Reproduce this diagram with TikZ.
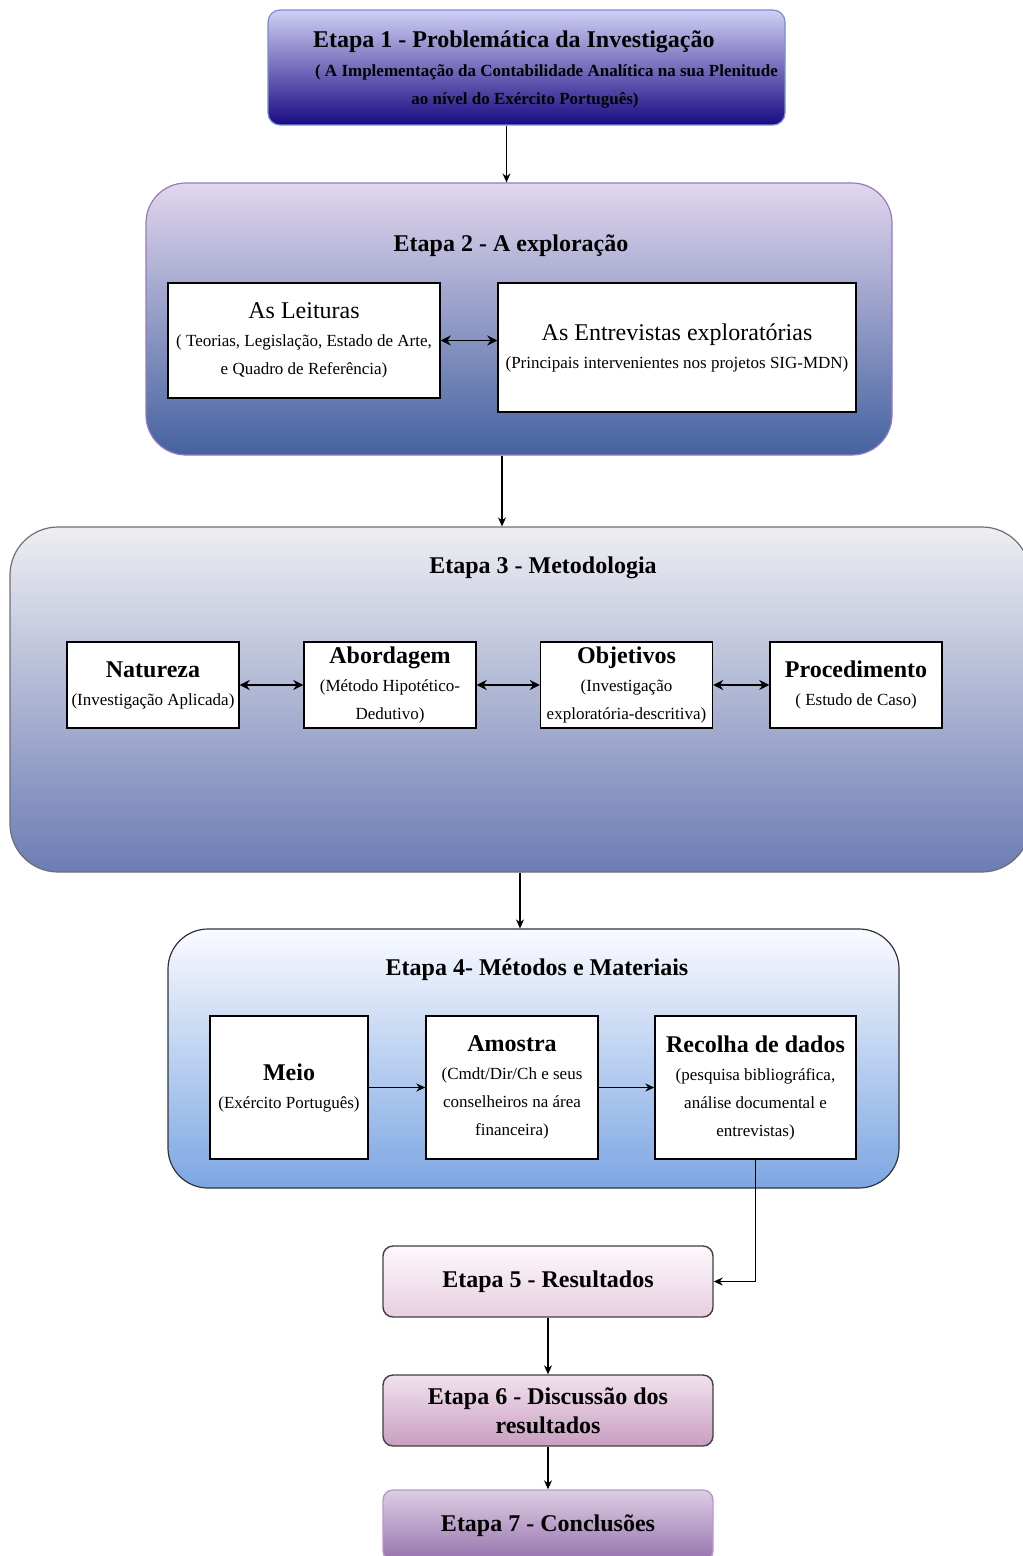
\documentclass[tikz,border=0pt]{standalone}
\usepackage{fontspec}
\setmainfont{Liberation Serif}
\usetikzlibrary{arrows.meta,positioning,calc}
\definecolor{umtopo}{RGB}{208,208,244}
\definecolor{umbase}{RGB}{26,10,130}
\definecolor{umlinha}{RGB}{120,140,212}
\definecolor{doistopo}{RGB}{226,214,238}
\definecolor{doisbase}{RGB}{68,98,160}
\definecolor{doislinha}{RGB}{150,122,192}
\definecolor{trestopo}{RGB}{238,238,242}
\definecolor{tresbase}{RGB}{108,124,180}
\definecolor{treslinha}{RGB}{110,110,120}
\definecolor{quatrotopo}{RGB}{250,251,255}
\definecolor{quatrobase}{RGB}{124,166,226}
\definecolor{quatrolinha}{RGB}{50,50,60}
\definecolor{cincotopo}{RGB}{253,249,253}
\definecolor{cincobase}{RGB}{232,206,224}
\definecolor{seistopo}{RGB}{242,226,238}
\definecolor{seisbase}{RGB}{200,158,192}
\definecolor{setetopo}{RGB}{222,206,230}
\definecolor{setebase}{RGB}{150,114,172}
\definecolor{setelinha}{RGB}{184,152,206}
\newcommand{\cabeca}[1]{{\fontsize{12}{15}\selectfont\bfseries #1}}
\tikzset{
    etapa/.style={rounded corners=20pt, line width=0.6pt, inner sep=0pt},
    etapafim/.style={rounded corners=5pt, draw=black!75, line width=0.7pt,
        minimum width=165pt, minimum height=35.5pt, align=center,
        font=\fontsize{12}{14.5}\selectfont\bfseries},
    caixa/.style={draw=black, line width=0.7pt, fill=white, align=center,
        inner sep=1pt, font=\fontsize{8.5}{14}\selectfont},
    titulo/.style={font=\fontsize{12}{15}\selectfont\bfseries, align=center},
    seta/.style={-{Stealth[length=4.5pt,width=4pt]}, line width=0.6pt},
    dupla/.style={{Stealth[length=5pt,width=5pt]}-{Stealth[length=5pt,width=5pt]}, line width=0.9pt},
}

\begin{document}
\begin{tikzpicture}[x=0.5pt, y=-0.5pt]
    \useasboundingbox (0,0) rectangle (1022,1556);

    % Etapa 1
    \node[
        etapa,
        rounded corners=6pt,
        draw=umlinha,
        top color=umtopo,
        bottom color=umbase,
        minimum width=258.5pt,
        minimum height=57.5pt
    ] (e1) at (526.5,67.5) {};
    \node[titulo, anchor=west] (t1) at (306,42) {Etapa 1 - Problemática da Investigação};
    \node[font=\fontsize{8.5}{12}\selectfont\bfseries, anchor=west] (s1) at (308,72)
        {( A Implementação da Contabilidade Analítica na sua Plenitude};
    \node[font=\fontsize{8.5}{12}\selectfont\bfseries] (s1b) at (525,100)
        {ao nível do Exército Português)};

    % Etapa 2
    \node[
        etapa,
        draw=doislinha,
        top color=doistopo,
        bottom color=doisbase,
        minimum width=373pt,
        minimum height=136pt
    ] (e2) at (519,319) {};
    \node[titulo] (t2) at (511,246) {Etapa 2 - A exploração};
    \node[caixa, minimum width=136pt, minimum height=57.5pt] (leit) at (304,340.5)
        {{\fontsize{12}{15}\selectfont As Leituras}\\( Teorias, Legislação, Estado de Arte,\\e Quadro de Referência)};
    \node[caixa, minimum width=179pt, minimum height=64.5pt] (entr) at (677,347.5)
        {{\fontsize{12}{15}\selectfont As Entrevistas exploratórias}\\(Principais intervenientes nos projetos SIG-MDN)};

    % Etapa 3
    \node[
        etapa,
        rounded corners=24pt,
        draw=treslinha,
        top color=trestopo,
        bottom color=tresbase,
        minimum width=510pt,
        minimum height=172.5pt
    ] (e3) at (520,699.5) {};
    \node[titulo] (t3) at (543,568) {Etapa 3 - Metodologia};
    \node[caixa, minimum width=86pt, minimum height=43pt] (nat) at (153,685)
        {\cabeca{Natureza}\\(Investigação Aplicada)};
    \node[caixa, minimum width=86pt, minimum height=43pt] (abo) at (390,685)
        {\cabeca{Abordagem}\\(Método Hipotético-\\Dedutivo)};
    \node[caixa, minimum width=86pt, minimum height=43pt] (obj) at (626.5,685)
        {\cabeca{Objetivos}\\(Investigação\\exploratória-descritiva)};
    \node[caixa, minimum width=86pt, minimum height=43pt] (proc) at (856,685)
        {\cabeca{Procedimento}\\( Estudo de Caso)};

    % Etapa 4
    \node[
        etapa,
        draw=quatrolinha,
        top color=quatrotopo,
        bottom color=quatrobase,
        minimum width=365.5pt,
        minimum height=129.5pt
    ] (e4) at (533.5,1058.5) {};
    \node[titulo] (t4) at (537,970) {Etapa 4- Métodos e Materiais};
    \node[caixa, minimum width=79pt, minimum height=71.5pt] (meio) at (289,1087.5)
        {\cabeca{Meio}\\(Exército Português)};
    \node[caixa, minimum width=86pt, minimum height=71.5pt] (amos) at (512,1087.5)
        {\cabeca{Amostra}\\(Cmdt/Dir/Ch e seus\\conselheiros na área\\financeira)};
    \node[caixa, minimum width=100.5pt, minimum height=71.5pt] (rec) at (755.5,1087.5)
        {\cabeca{Recolha de dados}\\(pesquisa bibliográfica,\\análise documental e\\entrevistas)};

    % Etapas 5 a 7
    \node[etapafim, top color=cincotopo, bottom color=cincobase] (e5) at (548,1281.5)
        {Etapa 5 - Resultados};
    \node[etapafim, top color=seistopo, bottom color=seisbase] (e6) at (548,1410.5)
        {Etapa 6 - Discussão dos\\resultados};
    \node[etapafim, draw=setelinha, top color=setetopo, bottom color=setebase] (e7) at (548,1525.5)
        {Etapa 7 - Conclusões};

    % ligacoes
    \draw[seta] ([xshift=-10pt]e1.south) -- ([xshift=-10pt]e1.south |- e2.north);
    \draw[seta] ([xshift=-8.5pt]e2.south) -- ([xshift=-8.5pt]e2.south |- e3.north);
    \draw[seta] (e3.south) -- (e3.south |- e4.north);
    \draw[dupla] (leit.east) -- (leit.east -| entr.west);
    \draw[dupla] (nat) -- (abo);
    \draw[dupla] (abo) -- (obj);
    \draw[dupla] (obj) -- (proc);
    \draw[seta] (meio) -- (amos);
    \draw[seta] (amos) -- (rec);
    \draw[seta] (rec.south) |- (e5.east);
    \draw[seta] (e5) -- (e6);
    \draw[seta] (e6) -- (e7);
\end{tikzpicture}
\end{document}
